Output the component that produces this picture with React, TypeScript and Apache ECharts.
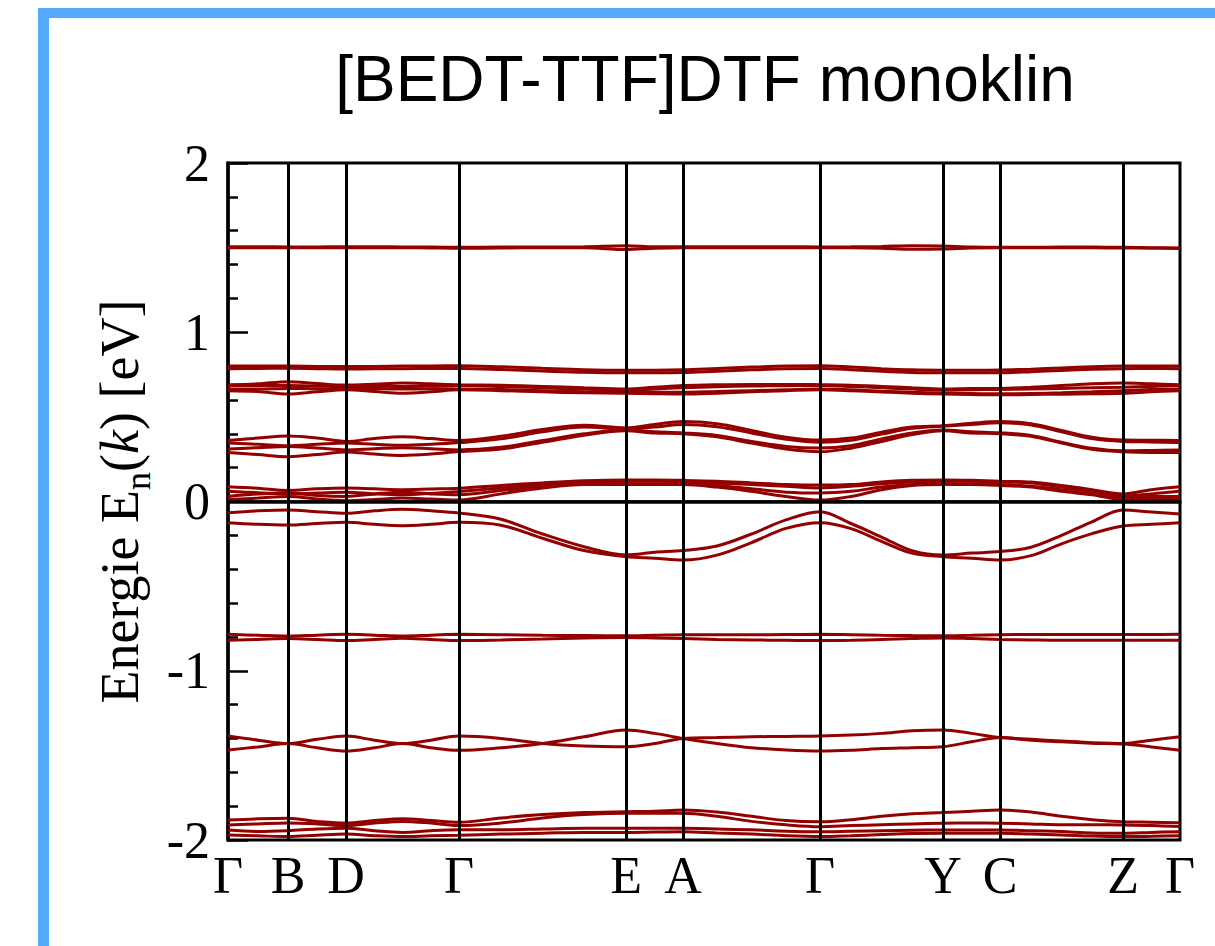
import React, { useEffect, useRef } from "react";
import * as echarts from "echarts";

// k-path coordinate (arbitrary path length units) of each sample
const kPath = [0, 0.30, 0.60, 0.89, 1.18, 1.465, 1.745, 2.03, 2.31, 2.73, 3.145, 3.56, 3.98, 4.265, 4.55, 4.89, 5.235, 5.58, 5.92, 6.23, 6.535, 6.84, 7.15, 7.435, 7.72, 8.03, 8.335, 8.64, 8.95, 9.235, 9.52];
const kTicks = [0, 0.60, 1.18, 2.31, 3.98, 4.55, 5.92, 7.15, 7.72, 8.95, 9.52];
const kLabels = ["Γ", "B", "D", "Γ", "E", "A", "Γ", "Y", "C", "Z", "Γ"];

const title = "[BEDT-TTF]DTF monoklin";

// band energies (eV) at each kPath sample
const bandG1 = [1.505,1.505,1.504,1.504,1.505,1.505,1.504,1.503,1.502,1.503,1.504,1.505,1.511,1.505,1.505,1.505,1.505,1.505,1.504,1.505,1.507,1.511,1.509,1.503,1.502,1.502,1.503,1.503,1.502,1.500,1.498];
const bandG2 = [1.500,1.500,1.500,1.500,1.500,1.499,1.499,1.498,1.496,1.498,1.499,1.499,1.489,1.497,1.500,1.500,1.500,1.500,1.500,1.499,1.496,1.490,1.492,1.498,1.500,1.500,1.500,1.499,1.498,1.497,1.495];

const bandF1 = [0.800,0.800,0.800,0.798,0.797,0.798,0.800,0.801,0.802,0.796,0.787,0.779,0.776,0.776,0.778,0.786,0.794,0.800,0.802,0.795,0.785,0.778,0.776,0.776,0.777,0.782,0.789,0.796,0.800,0.801,0.800];
const bandF2 = [0.785,0.786,0.787,0.785,0.783,0.784,0.785,0.786,0.786,0.780,0.771,0.763,0.760,0.760,0.762,0.770,0.778,0.784,0.786,0.779,0.769,0.762,0.760,0.760,0.761,0.767,0.774,0.781,0.785,0.786,0.785];

const bandE1 = [0.69,0.695,0.708,0.697,0.688,0.693,0.70,0.695,0.69,0.687,0.68,0.672,0.665,0.675,0.685,0.69,0.692,0.692,0.69,0.687,0.68,0.672,0.665,0.667,0.668,0.675,0.685,0.695,0.70,0.695,0.69];
const bandE2 = [0.685,0.685,0.685,0.683,0.685,0.683,0.68,0.682,0.685,0.68,0.672,0.664,0.658,0.665,0.672,0.678,0.682,0.684,0.685,0.68,0.672,0.664,0.658,0.66,0.662,0.664,0.668,0.672,0.675,0.68,0.685];
const bandE3 = [0.665,0.665,0.668,0.666,0.67,0.667,0.664,0.666,0.665,0.662,0.655,0.648,0.645,0.645,0.645,0.65,0.655,0.66,0.665,0.66,0.652,0.645,0.64,0.638,0.636,0.638,0.642,0.648,0.655,0.662,0.665];
const bandE4 = [0.655,0.65,0.635,0.648,0.66,0.65,0.64,0.648,0.66,0.655,0.648,0.642,0.64,0.637,0.635,0.64,0.648,0.655,0.66,0.655,0.647,0.64,0.635,0.632,0.63,0.632,0.634,0.636,0.64,0.648,0.655];

const bandD1 = [0.36,0.375,0.387,0.375,0.355,0.372,0.382,0.372,0.36,0.385,0.425,0.45,0.435,0.455,0.472,0.46,0.42,0.38,0.363,0.375,0.41,0.44,0.448,0.462,0.472,0.46,0.42,0.38,0.363,0.362,0.36];
const bandD2 = [0.345,0.338,0.33,0.338,0.345,0.338,0.332,0.338,0.348,0.37,0.412,0.44,0.428,0.44,0.455,0.442,0.405,0.368,0.35,0.362,0.398,0.432,0.445,0.455,0.465,0.452,0.412,0.372,0.355,0.352,0.348];
const bandD3 = [0.31,0.318,0.325,0.316,0.305,0.312,0.318,0.312,0.305,0.32,0.36,0.40,0.422,0.412,0.405,0.39,0.355,0.325,0.316,0.33,0.37,0.405,0.422,0.412,0.406,0.39,0.35,0.315,0.30,0.302,0.305];
const bandD4 = [0.29,0.277,0.265,0.277,0.293,0.28,0.272,0.28,0.295,0.31,0.35,0.392,0.418,0.405,0.40,0.382,0.345,0.31,0.294,0.315,0.355,0.395,0.418,0.405,0.40,0.385,0.345,0.308,0.294,0.29,0.29];

const bandC1 = [0.087,0.078,0.065,0.075,0.08,0.075,0.07,0.074,0.078,0.095,0.11,0.122,0.127,0.127,0.125,0.12,0.11,0.1,0.097,0.1,0.115,0.125,0.127,0.125,0.12,0.115,0.095,0.07,0.045,0.07,0.087];
const bandC2 = [0.06,0.052,0.045,0.05,0.055,0.045,0.04,0.048,0.059,0.08,0.1,0.115,0.12,0.12,0.118,0.11,0.1,0.09,0.08,0.09,0.105,0.115,0.12,0.12,0.115,0.11,0.085,0.06,0.035,0.045,0.06];
const bandC3 = [0.03,0.045,0.05,0.035,0.03,0.045,0.055,0.045,0.04,0.065,0.09,0.105,0.105,0.105,0.105,0.095,0.075,0.055,0.05,0.06,0.085,0.1,0.105,0.105,0.1,0.09,0.07,0.045,0.025,0.03,0.03];
const bandC4 = [0.012,0.02,0.03,0.015,0.005,0.012,0.02,0.015,0.009,0.045,0.08,0.1,0.1,0.1,0.1,0.085,0.06,0.03,0.009,0.03,0.07,0.095,0.1,0.1,0.095,0.085,0.06,0.04,0.012,0.012,0.012];

const bandV1 = [-0.066,-0.055,-0.05,-0.06,-0.07,-0.055,-0.046,-0.055,-0.068,-0.105,-0.192,-0.267,-0.316,-0.3,-0.29,-0.263,-0.192,-0.109,-0.06,-0.13,-0.21,-0.29,-0.316,-0.305,-0.296,-0.27,-0.2,-0.12,-0.05,-0.062,-0.074];
const bandV2 = [-0.125,-0.135,-0.139,-0.13,-0.123,-0.135,-0.143,-0.135,-0.123,-0.14,-0.217,-0.29,-0.326,-0.335,-0.346,-0.317,-0.243,-0.159,-0.125,-0.16,-0.235,-0.305,-0.326,-0.335,-0.346,-0.32,-0.25,-0.19,-0.145,-0.135,-0.125];

const bandH1 = [-0.785,-0.79,-0.795,-0.79,-0.785,-0.79,-0.795,-0.79,-0.785,-0.787,-0.79,-0.792,-0.793,-0.79,-0.787,-0.787,-0.787,-0.786,-0.785,-0.787,-0.79,-0.792,-0.793,-0.79,-0.787,-0.786,-0.786,-0.786,-0.786,-0.786,-0.785];
const bandH2 = [-0.82,-0.815,-0.81,-0.815,-0.822,-0.815,-0.808,-0.815,-0.822,-0.818,-0.812,-0.806,-0.803,-0.806,-0.81,-0.815,-0.818,-0.82,-0.822,-0.82,-0.815,-0.81,-0.806,-0.81,-0.815,-0.818,-0.82,-0.82,-0.82,-0.82,-0.82];

const bandI1 = [-1.386,-1.41,-1.43,-1.405,-1.386,-1.41,-1.43,-1.41,-1.386,-1.40,-1.43,-1.445,-1.449,-1.43,-1.40,-1.395,-1.39,-1.388,-1.386,-1.38,-1.37,-1.355,-1.35,-1.37,-1.395,-1.405,-1.415,-1.425,-1.43,-1.41,-1.39];
const bandI2 = [-1.468,-1.45,-1.43,-1.455,-1.474,-1.455,-1.43,-1.455,-1.47,-1.455,-1.43,-1.39,-1.35,-1.37,-1.40,-1.43,-1.455,-1.468,-1.474,-1.47,-1.46,-1.455,-1.449,-1.42,-1.395,-1.41,-1.42,-1.428,-1.433,-1.45,-1.47];

const bandJ1 = [-1.882,-1.875,-1.872,-1.89,-1.90,-1.885,-1.875,-1.885,-1.895,-1.87,-1.85,-1.838,-1.833,-1.83,-1.823,-1.835,-1.86,-1.885,-1.892,-1.88,-1.86,-1.845,-1.838,-1.83,-1.823,-1.835,-1.86,-1.88,-1.892,-1.895,-1.898];
const bandJ2 = [-1.911,-1.905,-1.90,-1.905,-1.915,-1.90,-1.89,-1.90,-1.915,-1.90,-1.87,-1.85,-1.842,-1.842,-1.842,-1.86,-1.89,-1.91,-1.921,-1.915,-1.91,-1.905,-1.901,-1.90,-1.901,-1.905,-1.91,-1.91,-1.911,-1.915,-1.92];
const bandJ3 = [-1.941,-1.95,-1.945,-1.935,-1.93,-1.945,-1.955,-1.945,-1.94,-1.94,-1.935,-1.93,-1.931,-1.93,-1.931,-1.935,-1.94,-1.948,-1.951,-1.948,-1.945,-1.942,-1.941,-1.941,-1.941,-1.945,-1.95,-1.958,-1.96,-1.955,-1.951];
const bandJ4 = [-1.97,-1.975,-1.98,-1.972,-1.965,-1.975,-1.98,-1.975,-1.972,-1.965,-1.96,-1.955,-1.955,-1.953,-1.951,-1.958,-1.965,-1.975,-1.98,-1.975,-1.968,-1.962,-1.96,-1.96,-1.96,-1.965,-1.97,-1.977,-1.98,-1.978,-1.975];

const bands = [
  bandG1, bandG2, bandF1, bandF2, bandE1, bandE2, bandE3, bandE4,
  bandD1, bandD2, bandD3, bandD4, bandC1, bandC2, bandC3, bandC4,
  bandV1, bandV2, bandH1, bandH2, bandI1, bandI2, bandJ1, bandJ2, bandJ3, bandJ4,
];

const SERIF = '"Liberation Serif", "DejaVu Serif", serif';
const SANS = '"Liberation Sans", Arial, sans-serif';
const BAND_COLOR = "#930000";

export default function App() {
  const ref = useRef<HTMLDivElement>(null);

  useEffect(() => {
    const chart = echarts.init(ref.current!, null, { renderer: "svg" });
    const series: any[] = bands.map((b) => ({
      type: "line",
      data: kPath.map((k, j) => [k, b[j]]),
      smooth: 0.35,
      symbol: "none",
      silent: true,
      clip: true,
      lineStyle: { color: BAND_COLOR, width: 3 },
      z: 2,
    }));
    series.push({
      type: "line",
      data: [],
      silent: true,
      z: 3,
      markLine: {
        silent: true,
        symbol: ["none", "none"],
        label: { show: false },
        animation: false,
        data: [
          ...kTicks.slice(1, -1).map((k) => ({ xAxis: k, lineStyle: { color: "#000", width: 3, type: "solid" } })),
          { yAxis: 0, lineStyle: { color: "#000", width: 2.5, type: "solid" } },
        ],
      },
    });

    chart.setOption({
      animation: false,
      backgroundColor: "#fff",
      grid: {
        left: 228,
        right: 35,
        top: 163,
        bottom: 106,
        show: true,
        borderColor: "#000",
        borderWidth: 3,
        backgroundColor: "transparent",
      },
      xAxis: {
        type: "value",
        min: 0,
        max: 9.52,
        axisLine: { show: true, lineStyle: { color: "#000", width: 3.5 } },
        axisTick: { show: false },
        splitLine: { show: false },
        axisLabel: {
          customValues: kTicks,
          formatter: (v: number) => {
            const idx = kTicks.findIndex((t) => Math.abs(t - v) < 1e-6);
            return idx >= 0 ? kLabels[idx] : "";
          },
          fontFamily: SERIF,
          fontSize: 52,
          color: "#000",
          margin: 9,
        },
      },
      yAxis: {
        type: "value",
        min: -2,
        max: 2,
        interval: 1,
        axisLine: { show: true, lineStyle: { color: "#000", width: 3.5 } },
        axisTick: { show: true, inside: true, length: 20, lineStyle: { color: "#000", width: 2.5 } },
        minorTick: { show: true, splitNumber: 5, length: 10, lineStyle: { color: "#000", width: 2.5 } },
        splitLine: { show: false },
        axisLabel: { fontFamily: SERIF, fontSize: 52, color: "#000", margin: 18 },
        name: "{t|Energie E}{sub|n}{t|(}{it|k}{t|) [eV]}",
        nameLocation: "middle",
        nameRotate: 90,
        nameGap: 70,
        nameTextStyle: {
          fontFamily: SERIF,
          fontSize: 54,
          color: "#000",
          rich: {
            t: { fontFamily: SERIF, fontSize: 54, color: "#000", verticalAlign: "bottom", padding: [0, 0, 9, 0] },
            it: { fontFamily: SERIF, fontSize: 54, color: "#000", fontStyle: "italic", verticalAlign: "bottom", padding: [0, 0, 9, 0] },
            sub: { fontFamily: SERIF, fontSize: 36, color: "#000", verticalAlign: "bottom" },
          },
        },
      },
      graphic: [
        { type: "rect", silent: true, shape: { x: 38, y: 8, width: 1177, height: 10 }, style: { fill: "#55aafb" } },
        { type: "rect", silent: true, shape: { x: 38, y: 8, width: 11, height: 938 }, style: { fill: "#55aafb" } },
        {
          type: "text",
          silent: true,
          x: 705,
          y: 79,
          style: {
            text: title,
            fontFamily: SANS,
            fontSize: 64,
            fill: "#000",
            align: "center",
            verticalAlign: "middle",
          },
        },
      ],
      series,
    });
    return () => chart.dispose();
  }, []);

  return (
    <div
      ref={ref}
      style={{ position: "absolute", left: 0, top: 0, width: 1215, height: 946, background: "#fff" }}
    />
  );
}
